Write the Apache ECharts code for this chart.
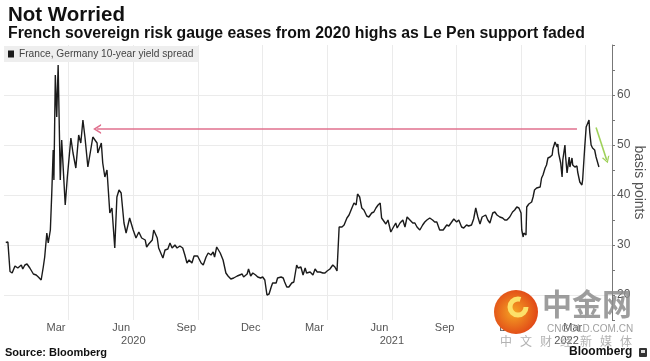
<!DOCTYPE html>
<html><head><meta charset="utf-8">
<script src="https://cdn.jsdelivr.net/npm/echarts@6/dist/echarts.min.js"></script>
<style>html,body{margin:0;padding:0;background:#fff}#c{width:650px;height:361px}</style>
</head><body><div id="c"></div>
<script>
const titleText = 'Not Worried';
const subtitleText = 'French sovereign risk gauge eases from 2020 highs as Le Pen support faded';
const seriesName = 'France, Germany 10-year yield spread';

const dates = [
'2020-01-04','2020-01-07','2020-01-10','2020-01-13','2020-01-17','2020-01-21','2020-01-26','2020-01-28','2020-01-31','2020-02-03',
'2020-02-07','2020-02-12','2020-02-16','2020-02-19','2020-02-23','2020-02-26','2020-02-28','2020-03-02','2020-03-04','2020-03-07',
'2020-03-09','2020-03-11','2020-03-12','2020-03-14','2020-03-16','2020-03-18','2020-03-21','2020-03-23','2020-03-28','2020-03-31',
'2020-04-05','2020-04-08','2020-04-12','2020-04-16','2020-04-19','2020-04-22','2020-04-25','2020-04-29','2020-05-03','2020-05-06',
'2020-05-12','2020-05-13','2020-05-18','2020-05-20','2020-05-23','2020-05-26','2020-05-30','2020-06-02','2020-06-06','2020-06-09',
'2020-06-12','2020-06-15','2020-06-19','2020-06-22','2020-06-27','2020-07-02','2020-07-06','2020-07-10','2020-07-14','2020-07-19',
'2020-07-21','2020-07-24','2020-07-29','2020-07-31','2020-08-05','2020-08-07','2020-08-13','2020-08-16','2020-08-20','2020-08-23',
'2020-08-26','2020-08-30','2020-09-02','2020-09-06','2020-09-10','2020-09-13','2020-09-16','2020-09-19','2020-09-23','2020-09-26',
'2020-10-01','2020-10-06','2020-10-09','2020-10-13','2020-10-16','2020-10-20','2020-10-23','2020-10-25','2020-10-28','2020-11-02',
'2020-11-06','2020-11-10','2020-11-13','2020-11-17','2020-11-21','2020-11-26','2020-11-28','2020-12-03','2020-12-05','2020-12-10',
'2020-12-12','2020-12-15','2020-12-18','2020-12-22','2020-12-25','2020-12-29','2021-01-01','2021-01-04','2021-01-07','2021-01-10',
'2021-01-13','2021-01-15','2021-01-20','2021-01-22','2021-01-27','2021-01-30','2021-02-01','2021-02-04','2021-02-07','2021-02-11',
'2021-02-14','2021-02-18','2021-02-20','2021-02-24','2021-02-27','2021-03-02','2021-03-04','2021-03-09','2021-03-13','2021-03-16',
'2021-03-19','2021-03-23','2021-03-27','2021-03-30','2021-04-02','2021-04-06','2021-04-10','2021-04-13','2021-04-16','2021-04-19',
'2021-04-23','2021-04-26','2021-04-30','2021-05-03','2021-05-07','2021-05-10','2021-05-13','2021-05-15','2021-05-18','2021-05-21',
'2021-05-24','2021-05-28','2021-05-31','2021-06-04','2021-06-07','2021-06-10','2021-06-13','2021-06-16','2021-06-18','2021-06-20',
'2021-06-24','2021-06-27','2021-07-01','2021-07-04','2021-07-08','2021-07-10','2021-07-14','2021-07-18','2021-07-21','2021-07-24',
'2021-07-28','2021-08-01','2021-08-04','2021-08-07','2021-08-11','2021-08-15','2021-08-18','2021-08-21','2021-08-25','2021-08-29',
'2021-09-01','2021-09-04','2021-09-08','2021-09-13','2021-09-15','2021-09-18','2021-09-21','2021-09-25','2021-09-28','2021-10-02',
'2021-10-05','2021-10-09','2021-10-12','2021-10-16','2021-10-19','2021-10-23','2021-10-26','2021-10-29','2021-11-01','2021-11-04',
'2021-11-07','2021-11-09','2021-11-12','2021-11-15','2021-11-18','2021-11-22','2021-11-25','2021-11-28','2021-12-02','2021-12-06',
'2021-12-09','2021-12-12','2021-12-16','2021-12-20','2021-12-23','2021-12-26','2021-12-29','2022-01-01','2022-01-02','2022-01-04',
'2022-01-05','2022-01-08','2022-01-09','2022-01-12','2022-01-16','2022-01-18','2022-01-20','2022-01-23','2022-01-25','2022-01-28',
'2022-01-30','2022-02-01','2022-02-04','2022-02-06','2022-02-08','2022-02-11','2022-02-14','2022-02-15','2022-02-18','2022-02-21',
'2022-02-22','2022-02-23','2022-02-26','2022-02-28','2022-03-01','2022-03-04','2022-03-05','2022-03-07','2022-03-10','2022-03-11',
'2022-03-14','2022-03-15','2022-03-18','2022-03-21','2022-03-22','2022-03-25','2022-03-28','2022-03-29','2022-04-01','2022-04-03',
'2022-04-04','2022-04-07','2022-04-08','2022-04-10','2022-04-12','2022-04-15','2022-04-17','2022-04-18','2022-04-21'
];
const spread = [
30.5,30.6,24.7,24.4,25.8,25.4,26.0,25.2,26.0,26.2,
25.4,24.2,24.0,23.6,23.0,25.6,27.6,32.4,30.4,33.0,
40.4,49.0,43.0,64.0,55.6,66.0,43.0,51.0,38.0,43.6,
51.4,48.4,45.4,52.0,50.4,55.0,51.4,45.6,49.0,51.6,
50.4,48.4,50.4,46.4,43.6,45.0,36.4,37.4,29.4,39.6,
41.0,40.4,34.4,32.4,35.4,33.0,31.4,32.6,31.4,31.0,
29.6,30.2,31.0,33.0,31.4,29.4,27.4,29.0,29.2,30.4,
29.4,30.0,29.4,29.8,29.4,28.0,26.4,27.0,26.4,27.8,
27.8,26.4,26.0,27.6,28.4,28.0,28.6,27.6,29.6,28.4,
27.0,24.4,23.8,23.2,23.4,23.8,23.4,24.2,23.6,24.2,
25.2,23.8,24.4,24.0,23.6,23.4,23.6,23.0,20.0,20.2,
21.6,22.4,22.4,23.4,23.6,23.4,22.6,21.6,21.6,22.4,
22.6,26.0,25.4,25.6,24.0,25.4,24.4,24.6,24.0,25.2,
24.6,24.6,24.4,24.4,24.8,25.2,26.0,25.6,24.8,33.6,
33.6,34.0,35.4,36.0,37.4,38.4,38.0,40.2,39.6,37.4,
37.0,35.8,35.6,36.4,36.6,37.4,38.0,38.4,35.4,35.0,
34.2,35.0,32.6,33.4,34.4,33.4,34.4,35.0,33.6,35.6,
35.0,34.4,34.4,33.6,33.0,34.0,34.6,35.0,35.4,35.0,
34.6,34.6,33.0,33.0,33.2,34.0,33.8,34.6,35.2,34.6,
35.0,33.6,33.4,34.0,33.8,34.0,35.2,37.4,35.6,34.2,
35.6,35.4,36.0,35.0,34.4,36.4,36.6,36.0,35.6,35.4,
35.0,35.0,35.6,36.6,37.0,37.6,37.4,36.4,33.0,31.6,
32.4,32.0,37.6,38.2,38.6,39.6,41.0,41.4,41.0,41.6,
43.4,44.0,45.4,46.0,47.4,47.6,48.0,49.2,50.6,49.6,
50.2,48.4,46.4,43.6,47.0,50.0,47.6,44.4,47.6,45.6,
47.4,46.0,45.6,45.8,44.6,42.6,42.0,43.0,49.6,53.6,
54.0,55.0,52.6,50.0,49.4,49.0,47.6,47.4,45.6
];

const monthLabelDates = ['2020-03-15','2020-06-15','2020-09-15','2020-12-15','2021-03-15','2021-06-15','2021-09-15','2021-12-15','2022-03-15'];
const monthLabels = ['Mar','Jun','Sep','Dec','Mar','Jun','Sep','Dec','Mar'];
const yearLabels = ['2020','2021','2022'];
const yLabelValues = [20, 30, 40, 50, 60];
const axisStart = '2020-01-01T12:00:00Z';
const axisEnd = '2022-05-09T12:00:00Z';
const pinkArrow = [['2022-03-21', 53.2], ['2020-05-12', 53.2]];
const greenArrow = [['2022-04-17', 53.5], ['2022-05-02', 47.0]];

const DAY = 86400000;
const QUARTER = 91.3125 * DAY;
const t = s => Date.parse(s.length === 10 ? s + 'T00:00:00Z' : s);
const xMin = t(axisStart), xMax = t(axisEnd);
const lineData = dates.map((d, i) => [t(d), spread[i]]);
const monthVals = monthLabelDates.map(t);
const monthMap = new Map(monthVals.map((v, i) => [v, monthLabels[i]]));
const yearVals = yearLabels.map(y => (Math.max(Date.UTC(+y, 0, 1), xMin) + Math.min(Date.UTC(+y + 1, 0, 1), xMax)) / 2);
const yearMap = new Map(yearVals.map((v, i) => [v, yearLabels[i]]));

const FONT = 'Liberation Sans, Arial, sans-serif';
const chevron = 'path://M0,10 L5,0 L10,10 L8.2,10 L5,3.6 L1.8,10 Z';

const wmChars = ['中','文','财','经','新','媒','体'];

const chart = echarts.init(document.getElementById('c'), null, {renderer: 'canvas'});
chart.setOption({
  animation: false,
  backgroundColor: '#ffffff',
  title: {
    text: titleText, subtext: subtitleText, left: 3, top: 0, itemGap: 0,
    textStyle: {fontFamily: FONT, fontSize: 20.5, fontWeight: 'bold', color: '#111'},
    subtextStyle: {fontFamily: FONT, fontSize: 15.8, fontWeight: 'bold', color: '#111'}
  },
  legend: {
    left: 4, top: 46, icon: 'rect', itemWidth: 6, itemHeight: 7,
    backgroundColor: '#eeeeee', padding: [3, 5, 3, 4],
    textStyle: {fontFamily: FONT, fontSize: 10.2, color: '#444'},
    data: [seriesName]
  },
  grid: {left: 4, right: 38, top: 45, bottom: 41, outerBoundsMode: 'none'},
  xAxis: [
    {
      type: 'value', min: xMin, max: xMax, interval: QUARTER,
      axisLine: {show: false}, axisTick: {show: false},
      splitLine: {show: true, showMinLine: false, showMaxLine: false, lineStyle: {color: '#ebebeb', width: 1}},
      axisLabel: {customValues: monthVals, formatter: v => monthMap.get(v) || '', margin: 2,
        fontFamily: FONT, fontSize: 11, color: '#555'}
    },
    {
      type: 'value', min: xMin, max: xMax, position: 'bottom', offset: 13,
      axisLine: {show: false}, axisTick: {show: false}, splitLine: {show: false},
      axisLabel: {customValues: yearVals, formatter: v => yearMap.get(v) || '', margin: 2,
        fontFamily: FONT, fontSize: 11, color: '#555'}
    }
  ],
  yAxis: {
    type: 'value', position: 'right', min: 15, max: 70, interval: 5,
    axisLine: {show: true, lineStyle: {color: '#777', width: 1}},
    axisTick: {show: true, length: 3, lineStyle: {color: '#777'}},
    axisLabel: {formatter: v => yLabelValues.includes(v) ? String(v) : '', margin: 5,
      fontFamily: FONT, fontSize: 12, color: '#555'},
    splitLine: {show: true, showMaxLine: false, lineStyle: {color: ['rgba(0,0,0,0)', '#ebebeb'], width: 1}},
    name: 'basis points', nameLocation: 'middle', nameRotate: -90, nameGap: 20, nameMoveOverlap: false,
    nameTextStyle: {fontFamily: FONT, fontSize: 14, color: '#555'}
  },
  series: [{
    type: 'line', name: seriesName, data: lineData, showSymbol: false,
    lineStyle: {color: '#1b1b1b', width: 1.4}, itemStyle: {color: '#1b1b1b'},
    markLine: {
      silent: true, animation: false, label: {show: false},
      data: [
        [{coord: [t(pinkArrow[0][0]), pinkArrow[0][1]], symbol: 'none', lineStyle: {color: '#e0708e', width: 1.6, type: 'solid'}},
         {coord: [t(pinkArrow[1][0]), pinkArrow[1][1]], symbol: chevron, symbolSize: [10, 8]}],
        [{coord: [t(greenArrow[0][0]), greenArrow[0][1]], symbol: 'none', lineStyle: {color: '#9fd15a', width: 1.6, type: 'solid'}},
         {coord: [t(greenArrow[1][0]), greenArrow[1][1]], symbol: chevron, symbolSize: [8, 7]}]
      ]
    }
  }],
  graphic: [
    {type: 'text', left: 5, top: 347, style: {text: 'Source: Bloomberg', font: 'bold 11px ' + FONT, fill: '#111'}},
    {type: 'text', left: 569, top: 346, style: {text: 'Bloomberg', font: 'bold 12px ' + FONT, fill: '#111'}},
    {type: 'rect', left: 639, top: 348, shape: {width: 8, height: 9, r: 1}, style: {fill: '#333'}},
    {type: 'rect', left: 641, top: 350, shape: {width: 4, height: 3}, style: {fill: '#ddd'}},
    {type: 'circle', z: 100, shape: {cx: 516, cy: 312, r: 22},
      style: {fill: new echarts.graphic.RadialGradient(0.45, 0.5, 0.6, [{offset: 0, color: '#f5a524'}, {offset: 1, color: '#df3f16'}])}},
    {type: 'arc', z: 101, shape: {cx: 518, cy: 307, r: 8, startAngle: 0, endAngle: Math.PI * 1.6}, style: {stroke: '#fce16a', lineWidth: 5, fill: null}},
    {type: 'text', z: 100, left: 542, top: 289, style: {text: '中金网', font: 'bold 30px "Noto Sans CJK SC"', fill: 'rgba(140,140,140,0.85)'}},
    {type: 'text', z: 100, left: 547, top: 324, style: {text: 'CNGOLD.COM.CN', font: '10px ' + FONT, fill: 'rgba(150,150,150,0.9)'}},
    ...wmChars.map((ch, i) => ({type: 'text', z: 100, left: 500 + i * 20, top: 335, style: {text: ch, font: '12px "Noto Sans CJK SC"', fill: 'rgba(170,170,170,0.9)'}}))
  ]
});
</script></body></html>
